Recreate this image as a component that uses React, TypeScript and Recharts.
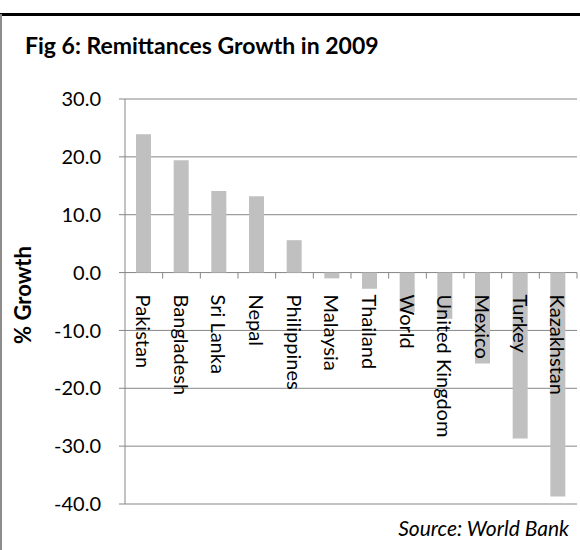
import React from 'react';
import { BarChart, Bar, XAxis, YAxis, CartesianGrid } from 'recharts';

const countries = ['Pakistan', 'Bangladesh', 'Sri Lanka', 'Nepal', 'Philippines', 'Malaysia', 'Thailand', 'World', 'United Kingdom', 'Mexico', 'Turkey', 'Kazakhstan'];
const growth = [23.9, 19.4, 14.1, 13.2, 5.6, -1.0, -2.8, -6.8, -8.0, -15.7, -28.7, -38.7];
const yTicks = [30, 20, 10, 0, -10, -20, -30, -40];

const data = countries.map((name, i) => ({ name, value: growth[i] }));

const W = 580;
const H = 550;
const TOP = 99;
const BOTTOM = 46;
const XH = 30;
const LEFT = 125;
const RIGHT = 3;
const plotH = H - TOP - BOTTOM;
const band = (W - LEFT - RIGHT) / countries.length;
const yMin = -40;
const yMax = 30;
const zeroY = TOP + plotH * (yMax - 0) / (yMax - yMin);
const font = 'Lato, "Open Sans", sans-serif';

// category labels hang off the zero line, not the bottom of the plot
const CategoryTick = (props: any) => {
    const { x, payload } = props;
    return (
        <g>
            <line x1={x + band / 2} x2={x + band / 2} y1={zeroY} y2={zeroY + 6} stroke="#868686" />
            <text
                x={x}
                y={zeroY + 22}
                transform={`rotate(90 ${x} ${zeroY + 22})`}
                textAnchor="start"
                dominantBaseline="central"
                fontFamily={font}
                fontSize={20}
                fill="#000"
            >
                {payload.value}
            </text>
        </g>
    );
};

export default function App() {
    return (
        <div style={{ position: 'absolute', left: 0, top: 0, width: W, height: H, background: '#fff', overflow: 'hidden' }}>
            <div style={{ position: 'absolute', left: 0, top: 13, width: W, height: 3, background: '#000' }} />
            <div style={{ position: 'absolute', left: 0, top: 14, width: 2, height: H - 14, background: '#8c8c8c' }} />
            <div style={{ position: 'absolute', left: 25, top: 31, fontFamily: font, fontWeight: 700, fontSize: 23, color: '#000', whiteSpace: 'nowrap' }}>
                Fig 6: Remittances Growth in 2009
            </div>
            <div style={{ position: 'absolute', left: 22, top: 295, transform: 'translate(-50%, -50%) rotate(-90deg)', fontFamily: font, fontWeight: 700, fontSize: 22, color: '#000', whiteSpace: 'nowrap' }}>
                % Growth
            </div>
            <div style={{ position: 'absolute', right: 11, top: 515, fontFamily: font, fontStyle: 'italic', fontSize: 21, color: '#000', whiteSpace: 'nowrap' }}>
                Source: World Bank
            </div>
            <div style={{ position: 'absolute', left: 0, top: 0 }}>
                <BarChart width={W} height={H} data={data} margin={{ top: TOP, right: RIGHT, bottom: BOTTOM - XH, left: 0 }}>
                    <CartesianGrid vertical={false} stroke="#868686" strokeDasharray="" />
                    <XAxis dataKey="name" height={XH} axisLine={false} tickLine={false} interval={0} tick={CategoryTick} />
                    <YAxis
                        width={LEFT}
                        domain={[yMin, yMax]}
                        ticks={yTicks}
                        interval={0}
                        tickFormatter={(v: number) => v.toFixed(1)}
                        axisLine={{ stroke: '#868686' }}
                        tickLine={{ stroke: '#868686' }}
                        tickSize={6}
                        tickMargin={18}
                        tick={{ fill: '#000', fontFamily: font, fontSize: 20 }}
                    />
                    <Bar dataKey="value" fill="#c0c0c0" barSize={15} isAnimationActive={false} />
                </BarChart>
            </div>
        </div>
    );
}
